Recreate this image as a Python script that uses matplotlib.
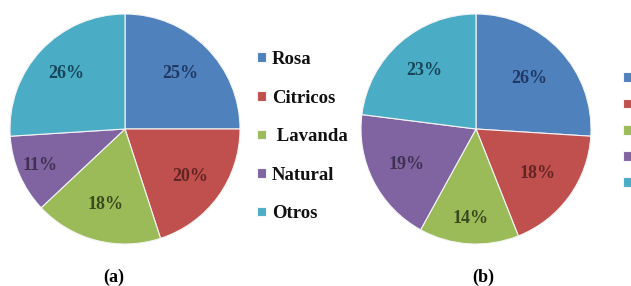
import matplotlib
matplotlib.use("Agg")
import matplotlib.pyplot as plt
from matplotlib.font_manager import FontProperties
import numpy as np

categories = ["Rosa", "Citricos", " Lavanda", "Natural", "Otros"]
values_a = [25, 20, 18, 11, 26]
values_b = [26, 18, 14, 19, 23]
panel_titles = ["(a)", "(b)"]

colors = ["#4F81BD", "#C0504D", "#9BBB59", "#8064A2", "#4BACC6"]
label_colors = ["#1F3864", "#632523", "#3B4A1E", "#3F3151", "#17465A"]

plt.rcParams["font.family"] = ["Liberation Serif", "DejaVu Serif"]
plt.rcParams["font.weight"] = "bold"
serif = ["Liberation Serif", "DejaVu Serif"]
fp_pct = FontProperties(family=serif, weight="bold", size=13)
fp_leg = FontProperties(family=serif, weight="bold", size=13.5)
fp_title = FontProperties(family=serif, weight="bold", size=13)

fig = plt.figure(figsize=(6.31, 2.86), dpi=100)
W, H = 631, 286
R = 115

def draw(cx, cy, values, dists):
    ax = fig.add_axes([(cx - R) / W, (H - cy - R) / H, 2 * R / W, 2 * R / H])
    wedges, texts, autotexts = ax.pie(
        values, colors=colors, startangle=90, counterclock=False,
        autopct=lambda p: f"{p:.0f}%", pctdistance=0.7,
        wedgeprops=dict(edgecolor="#f4f4f4", linewidth=0.8))
    for w, t, c, d in zip(wedges, autotexts, label_colors, dists):
        ang = np.deg2rad((w.theta1 + w.theta2) / 2)
        t.set_position((d * np.cos(ang), d * np.sin(ang)))
        t.set_color(c)
        t.set_fontproperties(fp_pct)
    ax.set_xlim(-1, 1)
    ax.set_ylim(-1, 1)
    ax.set_aspect("equal")
    ax.axis("off")
    return wedges

wa = draw(125, 129, values_a, [0.68, 0.7, 0.68, 0.8, 0.7])
wb = draw(476, 129, values_b, [0.64, 0.66, 0.78, 0.68, 0.68])

leg_a = fig.legend(wa, categories, loc="upper left", bbox_to_anchor=(257 / W, 1 - 51 / H),
                   frameon=False, prop=fp_leg, handlelength=0.48, handleheight=0.43,
                   handletextpad=0.32, labelspacing=1.15, borderpad=0, borderaxespad=0)
leg_b = fig.legend(wb, categories, loc="upper left", bbox_to_anchor=(623 / W, 1 - 71 / H),
                   frameon=False, prop=fp_leg, handlelength=0.48, handleheight=0.43,
                   handletextpad=0.5, labelspacing=0.49, borderpad=0, borderaxespad=0)
for leg in (leg_a, leg_b):
    for t in leg.get_texts():
        t.set_fontproperties(fp_leg)
        t.set_color("#111111")

fig.text(114 / W, 1 - 277 / H, panel_titles[0], ha="center", va="center", fontproperties=fp_title)
fig.text(483 / W, 1 - 277 / H, panel_titles[1], ha="center", va="center", fontproperties=fp_title)

fig.savefig("out.png", dpi=100, facecolor="white")
